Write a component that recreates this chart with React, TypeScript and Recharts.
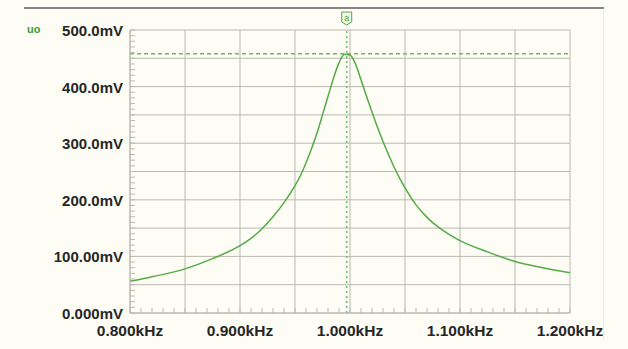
import { LineChart, Line, XAxis, YAxis, CartesianGrid, ReferenceLine } from "recharts";

// frequency in kHz, output in mV
const freqs = [0.8, 0.82, 0.85, 0.875, 0.9, 0.91, 0.92, 0.93, 0.94, 0.95, 0.955, 0.96, 0.965, 0.97, 0.975, 0.98, 0.985, 0.99, 0.995, 1.0, 1.005, 1.01, 1.015, 1.02, 1.025, 1.03, 1.035, 1.04, 1.05, 1.06, 1.07, 1.08, 1.09, 1.1, 1.125, 1.15, 1.175, 1.2];
const uo = [56, 64, 78, 96, 119, 132, 149, 170, 195, 225, 243, 265, 290, 318, 350, 383, 415, 442, 457, 456, 440, 412, 383, 355, 328, 303, 280, 258, 221, 191, 169, 152, 139, 128, 108, 91, 80, 71];

const xLabels: Record<string, string> = {
  "0.80": "0.800kHz",
  "0.90": "0.900kHz",
  "1.00": "1.000kHz",
  "1.10": "1.100kHz",
  "1.20": "1.200kHz",
};
const yLabels: Record<number, string> = {
  500: "500.0mV",
  400: "400.0mV",
  300: "300.0mV",
  200: "200.0mV",
  100: "100.00mV",
  0: "0.000mV",
};
const gridX = [0.8, 0.85, 0.9, 0.95, 1.0, 1.05, 1.1, 1.15, 1.2];
const gridY = [0, 50, 100, 150, 200, 250, 300, 350, 400, 450, 500];
const cursorF = 0.997;
const cursorV = 458;

const data = freqs.map((f, i) => ({ f, v: uo[i] }));
const xTicks = Array.from({ length: 41 }, (_, i) => +(0.8 + i * 0.01).toFixed(2));
const yTicks = Array.from({ length: 51 }, (_, i) => i * 10);

const GREEN = "#55aa44";
const GRID = "#b9b9b1";
const TEXT = "#262626";
const FONT = "'Liberation Sans', Arial, sans-serif";

const XTick = (props: any) => {
  const { x, y, payload } = props;
  const label = xLabels[Number(payload.value).toFixed(2)];
  return (
    <g>
      <line x1={x} y1={y} x2={x} y2={y - 5} stroke={GRID} />
      {label && (
        <text x={x} y={y + 23} textAnchor="middle" fontSize={15.5} fontWeight="bold" fontFamily={FONT} fill={TEXT}>
          {label}
        </text>
      )}
    </g>
  );
};

const YTick = (props: any) => {
  const { x, y, payload } = props;
  const label = yLabels[payload.value];
  return (
    <g>
      <line x1={x} y1={y} x2={x + 5} y2={y} stroke={GRID} />
      {label && (
        <text x={x - 7} y={y + 6} textAnchor="end" fontSize={15} fontWeight="bold" fontFamily={FONT} fill={TEXT}>
          {label}
        </text>
      )}
    </g>
  );
};

const CursorMark = (props: any) => {
  const { viewBox } = props;
  const cx = viewBox.x;
  const top = viewBox.y;
  return (
    <g>
      <path
        d={`M${cx - 5},${top - 18} L${cx + 5},${top - 18} L${cx + 5},${top - 8} L${cx},${top - 5} L${cx - 5},${top - 8} Z`}
        fill="#eef6e6"
        stroke={GREEN}
        strokeWidth={1}
      />
      <text x={cx} y={top - 9} textAnchor="middle" fontSize={9} fontFamily={FONT} fill={GREEN}>
        a
      </text>
    </g>
  );
};

export default function App() {
  return (
    <div style={{ position: "absolute", left: 0, top: 0, width: 628, height: 349, background: "#fdfdf6" }}>
      <div style={{ position: "absolute", left: 24, top: 7, width: 580, height: 2, background: "#858585" }} />
      <div style={{ position: "absolute", left: 603, top: 10, width: 1, height: 330, background: "#ecece4" }} />
      <div
        style={{
          position: "absolute",
          left: 27,
          top: 23,
          fontFamily: FONT,
          fontWeight: "bold",
          fontSize: 11,
          color: "#3a9a3a",
        }}
      >
        uo
      </div>
      <LineChart
        width={628}
        height={349}
        data={data}
        margin={{ top: 30, right: 58, bottom: 0, left: 0 }}
        style={{ position: "absolute", left: 0, top: 0 }}
      >
        <CartesianGrid stroke={GRID} strokeWidth={1} verticalValues={gridX} horizontalValues={gridY} />
        <XAxis
          dataKey="f"
          type="number"
          domain={[0.8, 1.2]}
          ticks={xTicks}
          interval={0}
          height={36}
          tickSize={0}
          tickMargin={0}
          axisLine={{ stroke: GRID }}
          tickLine={false}
          tick={<XTick />}
        />
        <YAxis
          type="number"
          domain={[0, 500]}
          ticks={yTicks}
          interval={0}
          width={130}
          tickSize={0}
          tickMargin={0}
          axisLine={{ stroke: GRID }}
          tickLine={false}
          tick={<YTick />}
        />
        <ReferenceLine y={cursorV} stroke="#6cb86c" strokeWidth={1.5} strokeDasharray="4 3" />
        <ReferenceLine x={cursorF} stroke="#6cb86c" strokeWidth={1.5} strokeDasharray="2 3" label={<CursorMark />} />
        <Line
          type="monotone"
          dataKey="v"
          stroke={GREEN}
          strokeWidth={1.5}
          dot={false}
          isAnimationActive={false}
        />
      </LineChart>
    </div>
  );
}
